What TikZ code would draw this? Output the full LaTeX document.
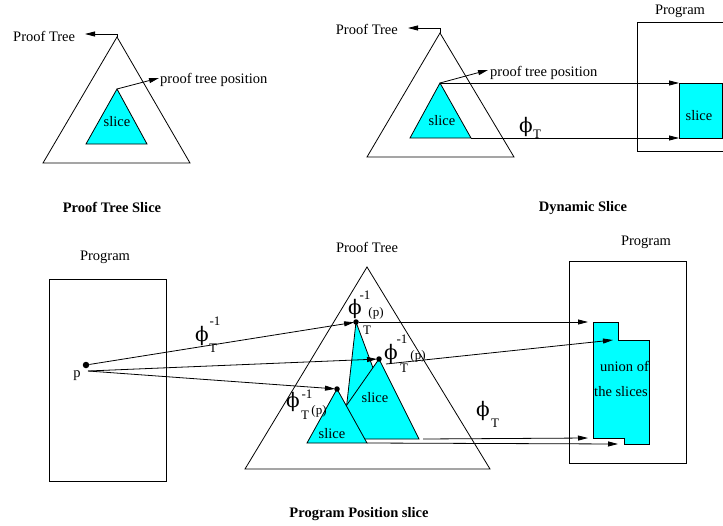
\documentclass[tikz,border=0pt]{standalone}
\usepackage{fontspec}
\setmainfont{Liberation Serif}
\newfontfamily\phifont{DejaVu Serif}
\usetikzlibrary{arrows.meta}
\definecolor{slicecyan}{RGB}{0,255,255}
\tikzset{
  lbl/.style={inner sep=0pt, anchor=base, font=\fontsize{14.5}{16}\selectfont},
  caption/.style={inner sep=0pt, anchor=base, font=\fontsize{14.5}{16}\selectfont\bfseries},
  phisym/.style={inner sep=0pt, anchor=base, font=\phifont\fontsize{20}{22}\selectfont},
  idx/.style={inner sep=0pt, anchor=base, font=\fontsize{13}{15}\selectfont},
  tree/.style={draw, line width=0.8pt, line join=miter},
  cyanpart/.style={draw, line width=0.8pt, fill=slicecyan},
  box/.style={draw, line width=0.8pt},
  arr/.style={line width=0.8pt, -{Triangle[length=10pt,width=5pt]}},
  dot/.style={circle, fill, inner sep=0pt, minimum size=5.5pt},
}
\begin{document}
\begin{tikzpicture}[x=1pt,y=-1pt]
\useasboundingbox (0,0) rectangle (723,525);

% ---------- Proof tree slice ----------
\draw[tree] (117,37) coordinate (A1) -- (190,163) -- (43,163) -- cycle;
\draw[cyanpart] (117,89) coordinate (a1) -- (147,144) -- (86,144) -- cycle;
\node[lbl] (s1) at (117,126) {slice};
\node[lbl, anchor=base west] (pt1) at (13,41) {Proof Tree};
\coordinate (pt1tip) at (85,34);
\draw[arr] (A1) |- (pt1tip);
\node[lbl, anchor=base west] (ptp1) at (160,83) {proof tree position};
\coordinate (ptp1tip) at (159,78);
\draw[arr] (a1) -- (ptp1tip);
\node[caption] (cap1) at (112,212) {Proof Tree Slice};

% ---------- Dynamic slice ----------
\draw[tree] (440,33) coordinate (A2) -- (514,157) -- (367,157) -- cycle;
\draw[cyanpart] (440,83) coordinate (a2) -- (471,138) coordinate (a2r) -- (410,138) -- cycle;
\node[lbl] (s2) at (442,125) {slice};
\node[lbl, anchor=base east] (pt2) at (398,34) {Proof Tree};
\coordinate (pt2tip) at (408,28);
\draw[arr] (A2) |- (pt2tip);
\node[lbl, anchor=base west] (ptp2) at (490,76) {proof tree position};
\coordinate (ptp2tip) at (488,70);
\draw[arr] (a2) -- (ptp2tip);
\draw[box] (637,22) rectangle (726,151);
\node[lbl] (prog1) at (680,14) {Program};
\draw[cyanpart] (679,83) coordinate (r2tl) rectangle (722,138);
\coordinate (r2bl) at (679,138);
\node[lbl] (s3) at (699,120) {slice};
\draw[arr] (a2) -- (r2tl);
\draw[arr] (a2r) -- (r2bl);
\node[phisym] (phi1) at (526,132) {ϕ};
\node[idx, anchor=base west] (phi1T) at (533,138) {T};
\node[caption] (cap2) at (583,211) {Dynamic Slice};

% ---------- Program position slice ----------
\draw[box] (49,279) rectangle (166,481);
\node[lbl] (prog2) at (105,260) {Program};
\node[dot, minimum size=6.5pt] (p) at (86,365) {};
\coordinate (p2) at (88,371);
\node[lbl] (plabel) at (77,377) {p};

\draw[tree] (367,267) -- (490,469) -- (245,469) -- cycle;
\node[lbl] (pt3) at (367,252) {Proof Tree};

% overlapping slices, back to front
\draw[cyanpart] (356,322) -- (399,438) -- (343,438) -- cycle;
\draw[cyanpart] (379,359) -- (419,439) coordinate (m2r) -- (323,439) -- cycle;
\draw[cyanpart] (337,389) -- (367,443) coordinate (m3r) -- (307,443) -- cycle;
\node[lbl] (s4) at (375,402) {slice};
\node[lbl] (s5) at (332,438) {slice};

\node[dot] (d1) at (356,322) {};
\node[dot] (d2) at (379,359) {};
\node[dot] (d3) at (337,389) {};

% program box with the union of the slices
\draw[box] (569,261) rectangle (686,463);
\node[lbl] (prog3) at (646,245) {Program};
\draw[cyanpart] (593,322) coordinate (u1) -- (618,322) -- (618,340) coordinate (u2)
  -- (649,340) -- (649,444) -- (624,444) coordinate (u4) -- (624,438)
  -- (593,438) coordinate (u3) -- cycle;
\node[lbl] (un1) at (624.5,371) {union of};
\node[lbl] (un2) at (621,396) {the slices};

% inverse mapping from the program point
\draw[arr, shorten >=-1pt] (p) -- (d1);
\draw[arr, shorten >=-1pt] (p2) -- (d2);
\draw[arr, shorten >=-1pt] (p2) -- (d3);

% forward mapping to the program
\coordinate (m1) at (386,364);
\coordinate (m0) at (423,439);
\draw[arr] (d1) -- ([xshift=-5pt]u1);
\draw[arr] (m1) -- ([xshift=-5pt]u2);
\draw[arr] (m0) -- ([xshift=-5pt]u3);
\draw[arr] (m3r) -- ([xshift=-6pt]u4);

% labels of the mappings
\node[phisym] (phiA) at (202,341) {ϕ};
\node[idx] (phiAs) at (215,325) {-1};
\node[idx] (phiAT) at (213,352) {T};

\node[phisym] (phiB) at (355,314) {ϕ};
\node[idx] (phiBs) at (365,299) {-1};
\node[idx] (phiBp) at (376,316) {(p)};
\node[idx] (phiBT) at (367,334) {T};

\node[phisym] (phiC) at (391,359) {ϕ};
\node[idx] (phiCs) at (402,343) {-1};
\node[idx] (phiCp) at (418,359) {(p)};
\node[idx] (phiCT) at (404,372) {T};

\node[phisym] (phiD) at (293,407) {ϕ};
\node[idx] (phiDs) at (307,398) {-1};
\node[idx] (phiDT) at (305,419) {T};
\node[idx] (phiDp) at (319,414) {(p)};

\node[phisym] (phiE) at (483,416) {ϕ};
\node[idx] (phiET) at (495,427) {T};

\node[caption] (cap3) at (359,517) {Program Position slice};
\end{tikzpicture}
\end{document}
